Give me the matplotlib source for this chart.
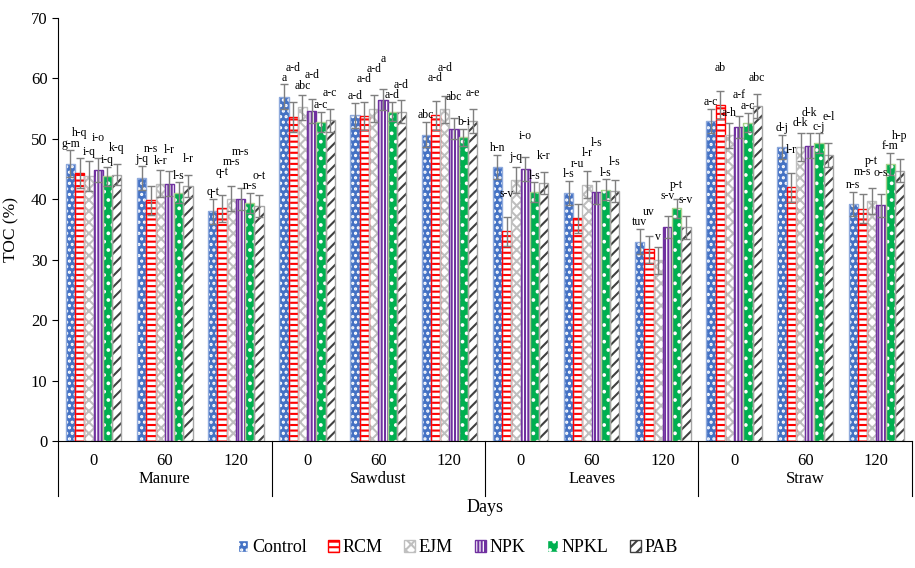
import matplotlib
matplotlib.use("Agg")
import matplotlib.pyplot as plt
from matplotlib.patches import Patch
import numpy as np

plt.rcParams['font.family'] = ['Liberation Serif', 'DejaVu Serif']
plt.rcParams['hatch.linewidth'] = 1.5

# data
materijali = ["Manure", "Sawdust", "Leaves", "Straw"]
dani = ["0", "60", "120"]
tretmani = ["Control", "RCM", "EJM", "NPK", "NPKL", "PAB"]

control = [45.9, 43.5, 38.0, 57.0, 53.9, 50.7, 45.4, 41.1, 33.0, 53.0, 48.7, 39.2]
rcm = [44.3, 39.8, 38.5, 53.6, 53.8, 53.9, 34.7, 36.9, 31.7, 55.6, 42.0, 38.4]
ejm = [43.8, 42.6, 40.1, 55.2, 55.0, 54.9, 43.2, 42.4, 29.9, 50.6, 48.7, 39.7]
npk = [44.8, 42.6, 40.0, 54.6, 56.5, 51.7, 45.0, 41.2, 35.4, 52.0, 48.9, 39.0]
npkl = [43.8, 41.1, 39.4, 52.8, 54.5, 50.3, 41.2, 41.6, 38.5, 52.7, 49.3, 45.9]
pab = [44.1, 42.2, 38.9, 53.1, 54.5, 53.0, 42.7, 41.4, 35.4, 55.4, 47.3, 44.7]

control_err = [2.2, 2.0, 2.1, 2.0, 2.1, 2.1, 2.0, 2.0, 2.1, 2.0, 2.0, 2.0]
rcm_err = [2.5, 2.4, 2.2, 2.5, 2.3, 2.4, 2.4, 2.4, 2.3, 2.3, 2.4, 2.4]
ejm_err = [2.5, 2.2, 2.1, 2.0, 2.2, 2.2, 2.2, 2.2, 2.2, 2.1, 2.3, 2.2]
npk_err = [2.0, 2.0, 1.8, 2.0, 1.8, 1.8, 2.0, 1.9, 1.8, 1.8, 2.0, 1.9]
npkl_err = [1.6, 1.7, 1.7, 1.7, 1.6, 1.4, 1.6, 1.7, 1.6, 1.6, 1.6, 1.8]
pab_err = [1.8, 1.9, 1.8, 1.9, 1.9, 2.0, 1.8, 1.8, 1.9, 2.0, 2.0, 1.9]

control_slova = ["g-m", "j-q", "q-t", "a", "a-d", "abc", "h-n", "l-s", "tuv", "a-c", "d-j", "n-s"]
rcm_slova = ["h-q", "n-s", "q-t", "a-d", "a-d", "a-d", "s-v", "r-u", "uv", "ab", "l-r", "m-s"]
ejm_slova = ["i-q", "k-r", "m-s", "abc", "a-d", "a-d", "j-q", "l-r", "v", "a-h", "d-k", "p-t"]
npk_slova = ["i-o", "l-r", "m-s", "a-d", "a", "abc", "i-o", "l-s", "s-v", "a-f", "d-k", "o-s"]
npkl_slova = ["i-q", "l-s", "n-s", "a-c", "a-d", "b-i", "l-s", "l-s", "p-t", "a-c", "c-j", "f-m"]
pab_slova = ["k-q", "l-r", "o-t", "a-c", "a-d", "a-e", "k-r", "l-s", "s-v", "abc", "e-l", "h-p"]

vrijednosti = [control, rcm, ejm, npk, npkl, pab]
greske = [control_err, rcm_err, ejm_err, npk_err, npkl_err, pab_err]
slova = [control_slova, rcm_slova, ejm_slova, npk_slova, npkl_slova, pab_slova]

# stil: (ispuna, boja srafure, srafura, rub)
stilovi = [
    ("#4472C4", "#FFFFFF", "...", "#8FAADC"),
    ("#FFFFFF", "#FF0000", "---", "#FF0000"),
    ("#FFFFFF", "#BFBFBF", "xxx", "#BFBFBF"),
    ("#FFFFFF", "#7030A0", "|||||", "#7030A0"),
    ("#00B050", "#FFFFFF", "..", "#A9D18E"),
    ("#FFFFFF", "#404040", "///", "#A6A6A6"),
]
# koliko su slova podignuta iznad vrha greske, po tretmanu
podizanje = [0.1, 2.8, 0.6, 2.4, 0.1, 1.6]
visina_slova = 1.7

fig = plt.figure(figsize=(9.15, 5.68), dpi=100)
ax = fig.add_axes([0.0634, 0.2236, 0.9333, 0.7447])

x = np.arange(len(materijali) * len(dani))
sirina = 0.13
legenda = []
for i, naziv in enumerate(tretmani):
    face, hcol, hatch, edge = stilovi[i]
    pos = x + (i - 2.5) * sirina
    ax.bar(pos, vrijednosti[i], sirina, color=face, edgecolor=hcol, hatch=hatch, linewidth=0, zorder=2)
    ax.bar(pos, vrijednosti[i], sirina, fill=False, edgecolor=edge, linewidth=1.0, zorder=3)
    ax.errorbar(pos, vrijednosti[i], yerr=greske[i], fmt='none', ecolor='#7F7F7F',
                elinewidth=1.0, capsize=3, capthick=1.0, zorder=4)
    legenda.append(Patch(facecolor=face, edgecolor=hcol, hatch=hatch, label=naziv))

# slova iznad gresaka, susjedna se ne smiju preklapati
for j in range(len(x)):
    prethodni = None
    for i in range(len(tretmani)):
        y = vrijednosti[i][j] + greske[i][j] + podizanje[i]
        if prethodni is not None and abs(y - prethodni) < visina_slova:
            y = prethodni + visina_slova
        prethodni = y
        ax.text(x[j] + (i - 2.5) * sirina, y, slova[i][j], ha='center', va='bottom',
                fontsize=8.5, zorder=5)

ax.set_xlim(-0.5, len(x) - 0.5)
ax.set_ylim(0, 70)
ax.set_yticks(range(0, 71, 10))
ax.tick_params(axis='y', labelsize=12, length=4, direction='out')
ax.set_xticks([])
ax.spines['top'].set_visible(False)
ax.spines['right'].set_visible(False)
ax.set_ylabel("TOC (%)", fontsize=12.5, labelpad=8)

trans = ax.get_xaxis_transform()
for j in range(len(x)):
    ax.text(x[j], -0.047, dani[j % 3], transform=trans, ha='center', va='center', fontsize=12)
for k, m in enumerate(materijali):
    ax.text(k * 3 + 1, -0.09, m, transform=trans, ha='center', va='center', fontsize=12)
for k in range(len(materijali) + 1):
    ax.plot([k * 3 - 0.5, k * 3 - 0.5], [0, -0.13], transform=trans, color='black',
            linewidth=0.8, clip_on=False)
ax.text(0.5, -0.158, "Days", transform=ax.transAxes, ha='center', va='center', fontsize=13)

fig.legend(handles=legenda, loc='lower center', bbox_to_anchor=(0.5, -0.008), ncol=6,
           frameon=False, fontsize=13, handlelength=0.6, handleheight=0.6,
           handletextpad=0.2, columnspacing=1.2)

fig.savefig("out.png", dpi=100)
